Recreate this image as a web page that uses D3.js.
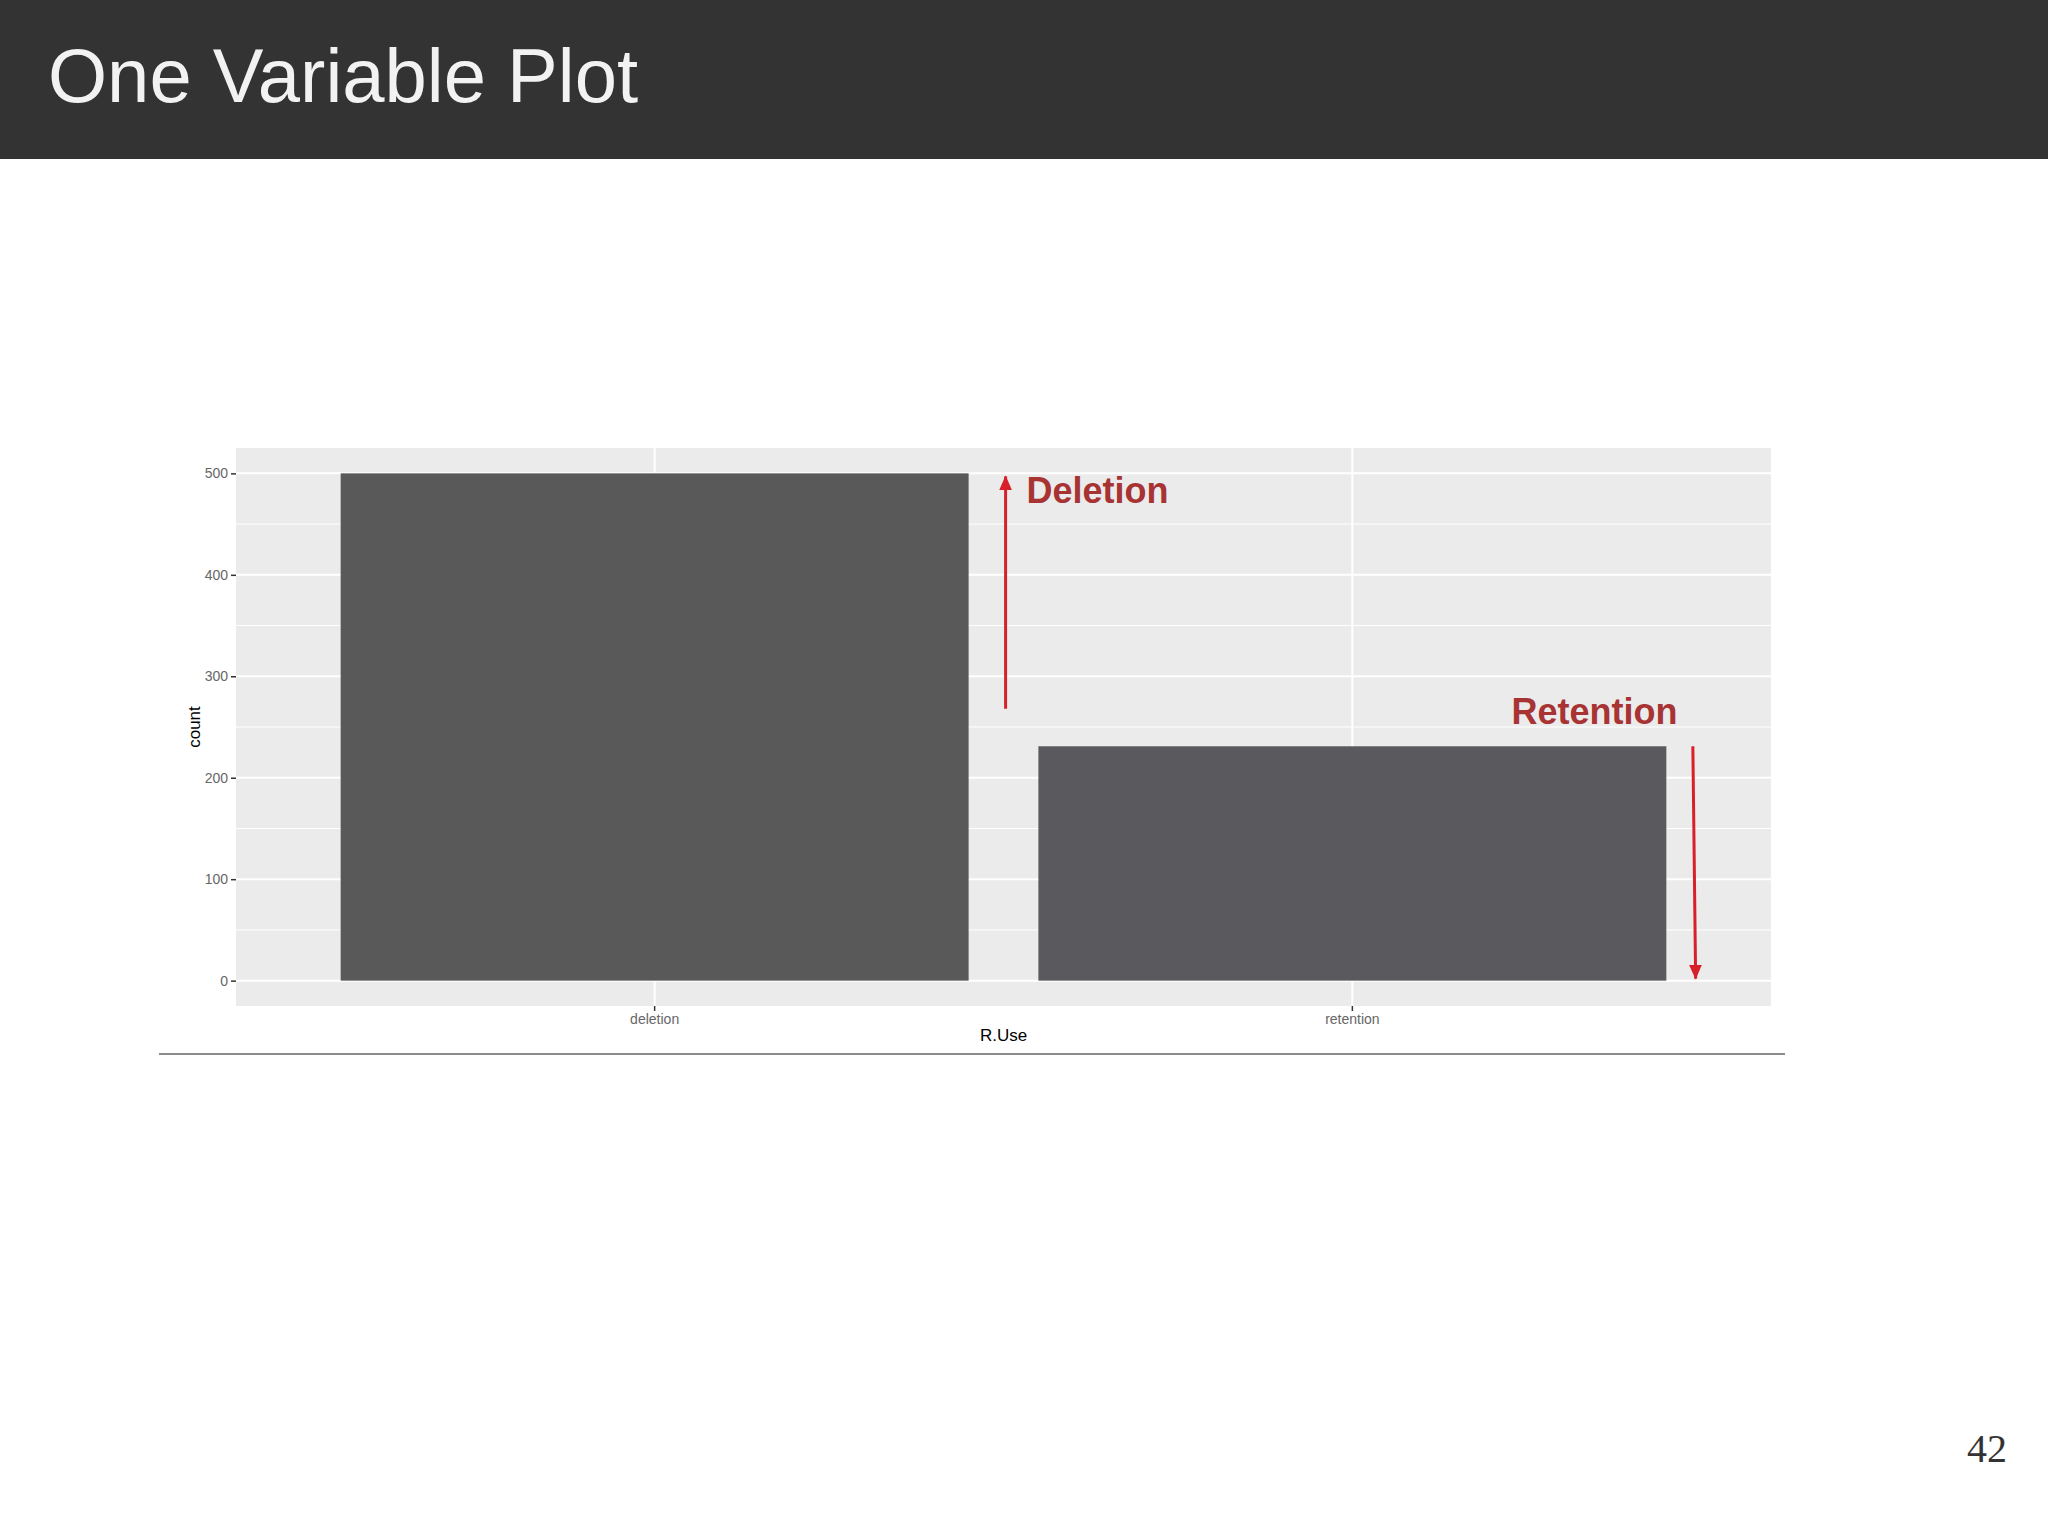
<!DOCTYPE html>
<html>
<head>
<meta charset="utf-8">
<title>One Variable Plot</title>
<script src="https://cdn.jsdelivr.net/npm/d3@7"></script>
<style>
  body {margin: 0; background: #fff;}
  svg {display: block;}
  .tick text {font-family: 'Liberation Sans', Arial, sans-serif;}
</style>
</head>
<body>
<div id="slide"></div>
<script>
// values
const categories = ['deletion', 'retention']
const counts = [500, 231]
const barColors = ['#595959', '#5a595d']
const yTicks = [0, 100, 200, 300, 400, 500]
const yMinorTicks = [50, 150, 250, 350, 450]

// annotation arrows: x in category units (1 = deletion, 2 = retention), y in counts
const arrowX1 = [1.503, 2.488]
const arrowX2 = [1.503, 2.492]
const arrowFrom = [268, 231]
const arrowTo = [497, 2]
const noteLabels = ['Deletion', 'Retention']
const noteX = [1.533, 2.228]
const noteY = [471, 253]

const width = 2048,
  height = 1536
const panel = {left: 236, right: 1771, top: 448, bottom: 1006}

const svg = d3
  .select('#slide')
  .append('svg')
  .attr('width', width)
  .attr('height', height)

// header band
svg.append('rect').attr('width', width).attr('height', 159).attr('fill', '#333333')
svg
  .append('text')
  .attr('x', 48)
  .attr('y', 102)
  .attr('fill', '#f2f2f2')
  .style('font-family', "'Liberation Sans', Arial, sans-serif")
  .style('font-size', '76px')
  .text('One Variable Plot')

// ggplot style expansions: 5% on y, 0.6 units on a discrete x
const yScale = d3
  .scaleLinear()
  .domain([-25, 525])
  .range([panel.bottom, panel.top])

const xBand = d3
  .scaleBand()
  .domain(categories)
  .range([panel.left, panel.right])
  .paddingInner(0.1)
  .paddingOuter(0.15)

const xCont = d3
  .scaleLinear()
  .domain([0.4, 2.6])
  .range([panel.left, panel.right])

const g = svg.append('g')

g.append('rect')
  .attr('x', panel.left)
  .attr('y', panel.top)
  .attr('width', panel.right - panel.left)
  .attr('height', panel.bottom - panel.top)
  .attr('fill', '#ebebeb')

// grid
g.selectAll('.minor')
  .data(yMinorTicks)
  .join('line')
  .attr('class', 'minor')
  .attr('x1', panel.left)
  .attr('x2', panel.right)
  .attr('y1', (d) => yScale(d))
  .attr('y2', (d) => yScale(d))
  .attr('stroke', '#fff')
  .attr('stroke-width', 1)

g.selectAll('.major')
  .data(yTicks)
  .join('line')
  .attr('class', 'major')
  .attr('x1', panel.left)
  .attr('x2', panel.right)
  .attr('y1', (d) => yScale(d))
  .attr('y2', (d) => yScale(d))
  .attr('stroke', '#fff')
  .attr('stroke-width', 2)

g.selectAll('.vmajor')
  .data(categories)
  .join('line')
  .attr('class', 'vmajor')
  .attr('x1', (d) => xBand(d) + xBand.bandwidth() / 2)
  .attr('x2', (d) => xBand(d) + xBand.bandwidth() / 2)
  .attr('y1', panel.top)
  .attr('y2', panel.bottom)
  .attr('stroke', '#fff')
  .attr('stroke-width', 2)

// bars
g.selectAll('.bar')
  .data(categories)
  .join('rect')
  .attr('class', 'bar')
  .attr('x', (d) => xBand(d))
  .attr('width', xBand.bandwidth())
  .attr('y', (d, i) => yScale(counts[i]))
  .attr('height', (d, i) => yScale(0) - yScale(counts[i]))
  .attr('fill', (d, i) => barColors[i])

// axes
const yAxis = svg
  .append('g')
  .attr('transform', 'translate(' + panel.left + ',0)')
  .call(d3.axisLeft(yScale).tickValues(yTicks).tickSize(5).tickPadding(3))
yAxis.select('.domain').remove()
yAxis.selectAll('.tick line').attr('stroke', '#333').attr('stroke-width', 1.5)
yAxis.selectAll('.tick text').attr('fill', '#666').style('font-size', '14px')

const xAxis = svg
  .append('g')
  .attr('transform', 'translate(0,' + panel.bottom + ')')
  .call(d3.axisBottom(xBand).tickSize(5).tickPadding(3))
xAxis.select('.domain').remove()
xAxis.selectAll('.tick line').attr('stroke', '#333').attr('stroke-width', 1.5)
xAxis.selectAll('.tick text').attr('fill', '#666').style('font-size', '14px')

svg
  .append('text')
  .attr('transform', 'translate(200,' + (panel.top + panel.bottom) / 2 + ') rotate(-90)')
  .attr('text-anchor', 'middle')
  .attr('fill', '#000')
  .style('font-family', "'Liberation Sans', Arial, sans-serif")
  .style('font-size', '17px')
  .text('count')

svg
  .append('text')
  .attr('x', (panel.left + panel.right) / 2)
  .attr('y', 1041)
  .attr('text-anchor', 'middle')
  .attr('fill', '#000')
  .style('font-family', "'Liberation Sans', Arial, sans-serif")
  .style('font-size', '17px')
  .text('R.Use')

// annotations
svg
  .append('defs')
  .append('marker')
  .attr('id', 'head')
  .attr('markerUnits', 'userSpaceOnUse')
  .attr('viewBox', '0 0 15 13')
  .attr('refX', 14)
  .attr('refY', 6.5)
  .attr('markerWidth', 15)
  .attr('markerHeight', 13)
  .attr('orient', 'auto')
  .append('path')
  .attr('d', 'M0,0L15,6.5L0,13Z')
  .attr('fill', '#d8202a')

svg
  .selectAll('.arrow')
  .data(arrowFrom)
  .join('line')
  .attr('class', 'arrow')
  .attr('x1', (d, i) => xCont(arrowX1[i]))
  .attr('x2', (d, i) => xCont(arrowX2[i]))
  .attr('y1', (d) => yScale(d))
  .attr('y2', (d, i) => yScale(arrowTo[i]))
  .attr('stroke', '#d8202a')
  .attr('stroke-width', 3)
  .attr('marker-end', 'url(#head)')

svg
  .selectAll('.note')
  .data(noteLabels)
  .join('text')
  .attr('class', 'note')
  .attr('x', (d, i) => xCont(noteX[i]))
  .attr('y', (d, i) => yScale(noteY[i]))
  .attr('fill', '#a83333')
  .style('font-family', "'Liberation Sans', Arial, sans-serif")
  .style('font-weight', 'bold')
  .style('font-size', '36px')
  .text((d) => d)

// rule under the plot and page number
svg
  .append('line')
  .attr('x1', 159)
  .attr('x2', 1785)
  .attr('y1', 1054)
  .attr('y2', 1054)
  .attr('stroke', '#8c8c8c')
  .attr('stroke-width', 2)

svg
  .append('text')
  .attr('x', 2007)
  .attr('y', 1462)
  .attr('text-anchor', 'end')
  .attr('fill', '#333')
  .style('font-family', "'Liberation Serif', 'DejaVu Serif', serif")
  .style('font-size', '40px')
  .text('42')
</script>
</body>
</html>
